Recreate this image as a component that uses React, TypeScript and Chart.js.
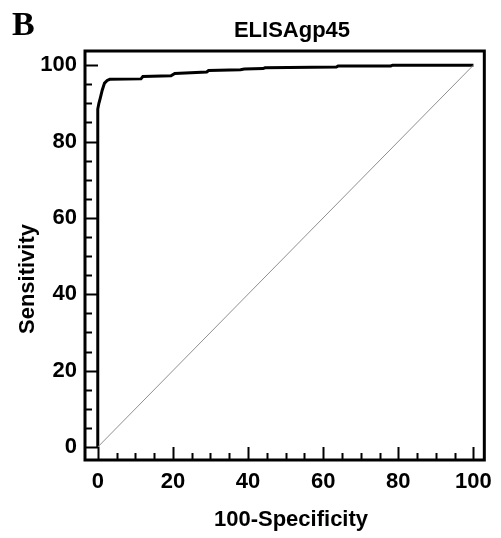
import React, { useEffect, useRef } from "react";
import { Chart, registerables } from "chart.js";

Chart.register(...registerables);

const rocX = [0, 0, 0.3, 0.7, 1.2, 1.8, 2.5, 3.2, 11.5, 12, 19.5, 20.5, 29, 29.5, 38, 39, 44, 44.5, 63.5, 64, 78, 78.5, 100];
const rocY = [0, 88.5, 90, 91.5, 93.5, 95.3, 96, 96.3, 96.4, 97, 97.2, 97.8, 98.2, 98.6, 98.8, 99, 99.1, 99.3, 99.5, 99.8, 99.8, 100, 100];
const refX = [0, 100];
const refY = [0, 100];
const majorTicks = [0, 20, 40, 60, 80, 100];
const minorTicks = [5, 10, 15, 25, 30, 35, 45, 50, 55, 65, 70, 75, 85, 90, 95];

const FONT = "'Liberation Sans', Arial, sans-serif";

const decorPlugin = {
  id: "decor",
  afterDatasetsDraw(chart: any) {
    const { ctx, chartArea, scales } = chart;
    const xs = scales.x;
    const ys = scales.y;
    ctx.save();
    ctx.strokeStyle = "#000";
    ctx.lineWidth = 2;
    const drawTicks = (vals: number[], len: number) => {
      vals.forEach((v) => {
        const px = Math.round(xs.getPixelForValue(v)) + 0.5;
        ctx.beginPath();
        ctx.moveTo(px, chartArea.bottom);
        ctx.lineTo(px, chartArea.bottom - len);
        ctx.stroke();
        const py = Math.round(ys.getPixelForValue(v)) + 0.5;
        ctx.beginPath();
        ctx.moveTo(chartArea.left, py);
        ctx.lineTo(chartArea.left + len, py);
        ctx.stroke();
      });
    };
    drawTicks(majorTicks, 13);
    drawTicks(minorTicks, 7);
    ctx.lineWidth = 3;
    ctx.strokeRect(chartArea.left, chartArea.top, chartArea.right - chartArea.left, chartArea.bottom - chartArea.top);
    ctx.fillStyle = "#000";
    ctx.textAlign = "center";
    ctx.textBaseline = "alphabetic";
    ctx.font = `bold 22px ${FONT}`;
    ctx.fillText("ELISAgp45", 292, 37);
    ctx.font = `bold 22px ${FONT}`;
    ctx.fillText("100-Specificity", 291, 526);
    ctx.save();
    ctx.translate(34, 279);
    ctx.rotate(-Math.PI / 2);
    ctx.fillText("Sensitivity", 0, 0);
    ctx.restore();
    ctx.textAlign = "left";
    ctx.font = `bold 34px 'Liberation Serif', 'Times New Roman', serif`;
    ctx.fillText("B", 12, 35);
    ctx.restore();
  },
};

export default function App() {
  const ref = useRef<HTMLCanvasElement>(null);
  useEffect(() => {
    if (!ref.current) return;
    const chart = new Chart(ref.current, {
      type: "scatter",
      data: {
        datasets: [
          {
            data: refX.map((x, i) => ({ x, y: refY[i] })),
            showLine: true,
            borderColor: "#8f8f8f",
            borderWidth: 1,
            pointRadius: 0,
            fill: false,
          },
          {
            data: rocX.map((x, i) => ({ x, y: rocY[i] })),
            showLine: true,
            borderColor: "#000",
            borderWidth: 3,
            pointRadius: 0,
            fill: false,
            tension: 0,
          },
        ],
      },
      plugins: [decorPlugin],
      options: {
        responsive: false,
        animation: false,
        layout: { padding: { left: 0, right: 8, top: 51, bottom: 0 } },
        plugins: { legend: { display: false }, tooltip: { enabled: false }, title: { display: false } },
        scales: {
          x: {
            type: "linear",
            min: -3.4,
            max: 102.9,
            grid: { display: false, drawTicks: false },
            border: { display: false },
            afterBuildTicks: (s: any) => {
              s.ticks = majorTicks.map((v) => ({ value: v }));
            },
            afterFit: (s: any) => {
              s.height = 78;
            },
            ticks: {
              autoSkip: false,
              maxRotation: 0,
              padding: 9,
              color: "#000",
              font: { family: FONT, size: 22, weight: "bold" },
            },
          },
          y: {
            type: "linear",
            min: -3.4,
            max: 103.7,
            grid: { display: false, drawTicks: false },
            border: { display: false },
            afterBuildTicks: (s: any) => {
              s.ticks = majorTicks.map((v) => ({ value: v }));
            },
            afterFit: (s: any) => {
              s.width = 85;
            },
            ticks: {
              autoSkip: false,
              padding: 8,
              color: "#000",
              font: { family: FONT, size: 22, weight: "bold" },
            },
          },
        },
      },
    } as any);
    return () => chart.destroy();
  }, []);
  return (
    <div style={{ position: "fixed", left: 0, top: 0, width: 501, height: 538, background: "#fff" }}>
      <canvas ref={ref} width={501} height={538} style={{ display: "block", width: 501, height: 538 }} />
    </div>
  );
}
